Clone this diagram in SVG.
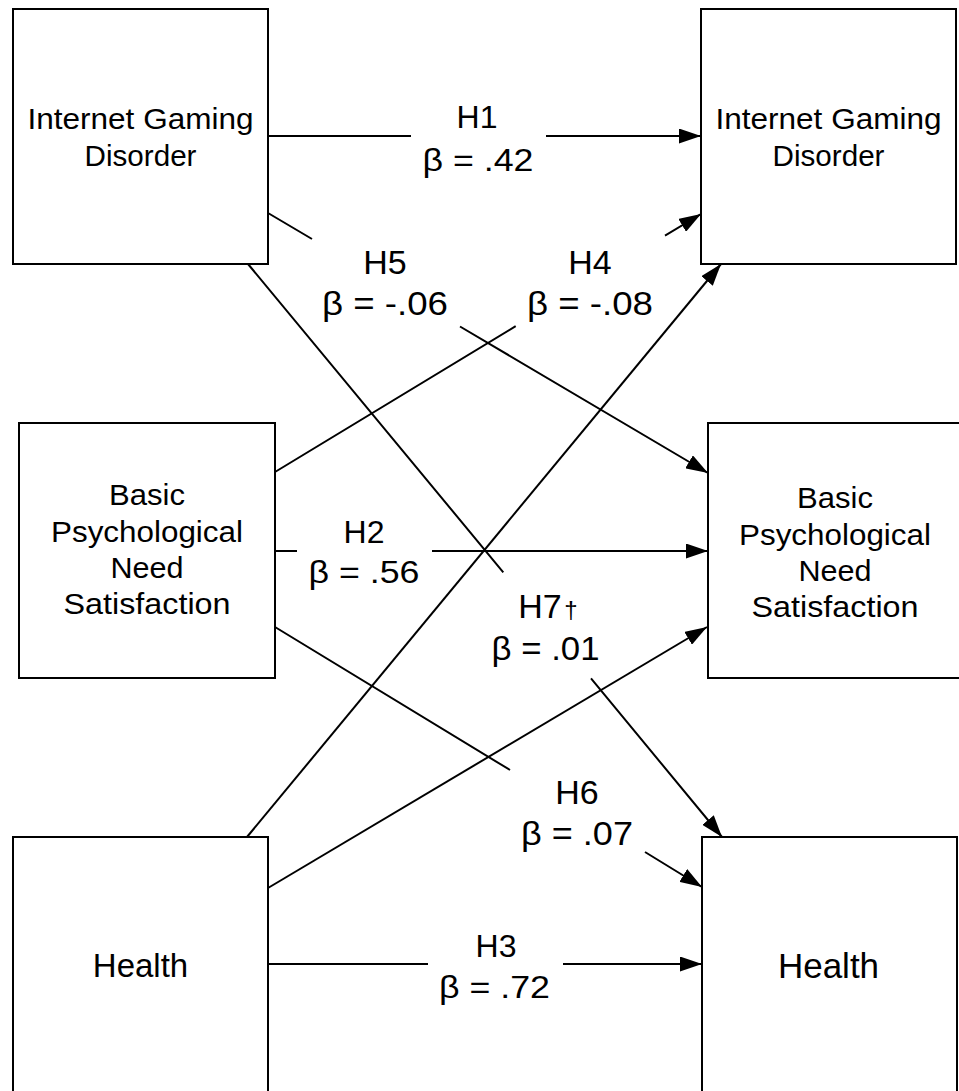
<svg xmlns="http://www.w3.org/2000/svg" width="959" height="1091" viewBox="0 0 959 1091">
  <style>
    .box { fill: #fff; stroke: #000; stroke-width: 2; }
    .t { font-family: "Liberation Sans", Arial, Helvetica, sans-serif; fill: #000; text-anchor: middle; }
    .bt { font-size: 29px; }
    .lh { font-size: 32px; }
    .lb { font-size: 34px; }
    .conn { fill: none; stroke: #000; stroke-width: 2; }
  </style>
  <defs>
    <marker id="arrow" markerUnits="userSpaceOnUse" markerWidth="22" markerHeight="15" refX="22" refY="7.5" orient="auto">
      <path d="M0,0 L22,7.5 L0,15 Z" fill="#000"/>
    </marker>
  </defs>
  <rect width="959" height="1091" fill="#fff"/>

  <g id="igd-t1">
    <rect class="box" x="13" y="9" width="255" height="255"/>
    <text class="t bt" x="140.5" y="129" textLength="226" lengthAdjust="spacingAndGlyphs">Internet Gaming</text>
    <text class="t bt" x="140.5" y="166" textLength="112" lengthAdjust="spacingAndGlyphs">Disorder</text>
  </g>
  <g id="igd-t2">
    <rect class="box" x="701" y="9" width="255" height="255"/>
    <text class="t bt" x="828.5" y="129" textLength="226" lengthAdjust="spacingAndGlyphs">Internet Gaming</text>
    <text class="t bt" x="828.5" y="166" textLength="112" lengthAdjust="spacingAndGlyphs">Disorder</text>
  </g>
  <g id="bpns-t1">
    <rect class="box" x="19" y="423" width="256" height="255"/>
    <text class="t bt" x="147" y="505" textLength="76" lengthAdjust="spacingAndGlyphs">Basic</text>
    <text class="t bt" x="147" y="542" textLength="192" lengthAdjust="spacingAndGlyphs">Psychological</text>
    <text class="t bt" x="147" y="578" textLength="73" lengthAdjust="spacingAndGlyphs">Need</text>
    <text class="t bt" x="147" y="614" textLength="167" lengthAdjust="spacingAndGlyphs">Satisfaction</text>
  </g>
  <g id="bpns-t2">
    <rect class="box" x="708" y="423" width="255" height="255"/>
    <text class="t bt" x="835" y="508" textLength="76" lengthAdjust="spacingAndGlyphs">Basic</text>
    <text class="t bt" x="835" y="545" textLength="192" lengthAdjust="spacingAndGlyphs">Psychological</text>
    <text class="t bt" x="835" y="581" textLength="73" lengthAdjust="spacingAndGlyphs">Need</text>
    <text class="t bt" x="835" y="617" textLength="167" lengthAdjust="spacingAndGlyphs">Satisfaction</text>
  </g>
  <g id="health-t1">
    <rect class="box" x="13" y="837" width="255" height="260"/>
    <text class="t" x="140.5" y="977" font-size="33">Health</text>
  </g>
  <g id="health-t2">
    <rect class="box" x="702" y="837" width="255" height="260"/>
    <text class="t" x="828.5" y="978" font-size="35">Health</text>
  </g>

  <g id="connectors">
    <path class="conn" d="M268,136 H411 M546,136 H701" marker-end="url(#arrow)"/>
    <path class="conn" d="M275,551 H297 M432,551 H708" marker-end="url(#arrow)"/>
    <path class="conn" d="M268,964 H428 M563,964 H702" marker-end="url(#arrow)"/>
    <path class="conn" d="M268,213 L312,239 M460,326.5 L708,473" marker-end="url(#arrow)"/>
    <path class="conn" d="M275,472 L515.7,326.2 M665,235.7 L701,214" marker-end="url(#arrow)"/>
    <path class="conn" d="M275,627 L510,770 M645,852 L702,887" marker-end="url(#arrow)"/>
    <path class="conn" d="M248,264 L503.3,572.3 M591,678.4 L722,837" marker-end="url(#arrow)"/>
    <path class="conn" d="M247,837 L721,264" marker-end="url(#arrow)"/>
    <path class="conn" d="M268,888 L707,627" marker-end="url(#arrow)"/>
  </g>

  <g id="labels">
    <text class="t lh" x="477" y="128">H1</text>
    <text class="t lh" x="478" y="171" textLength="111" lengthAdjust="spacingAndGlyphs">β = .42</text>
    <text class="t lh" x="364" y="543">H2</text>
    <text class="t lh" x="364" y="583" textLength="111" lengthAdjust="spacingAndGlyphs">β = .56</text>
    <text class="t lh" x="496" y="957">H3</text>
    <text class="t lh" x="494.5" y="998" textLength="111" lengthAdjust="spacingAndGlyphs">β = .72</text>
    <text class="t lb" x="385" y="274">H5</text>
    <text class="t lb" x="385" y="315" textLength="126" lengthAdjust="spacingAndGlyphs">β = -.06</text>
    <text class="t lb" x="590" y="274">H4</text>
    <text class="t lb" x="590" y="315" textLength="126" lengthAdjust="spacingAndGlyphs">β = -.08</text>
    <text class="t lb" x="577" y="804">H6</text>
    <text class="t lb" x="577" y="845" textLength="112" lengthAdjust="spacingAndGlyphs">β = .07</text>
    <text class="t lb" x="540" y="618">H7</text>
    <text class="t" x="571" y="618" font-size="24">†</text>
    <text class="t lb" x="545.5" y="660" textLength="108" lengthAdjust="spacingAndGlyphs">β = .01</text>
  </g>
</svg>
